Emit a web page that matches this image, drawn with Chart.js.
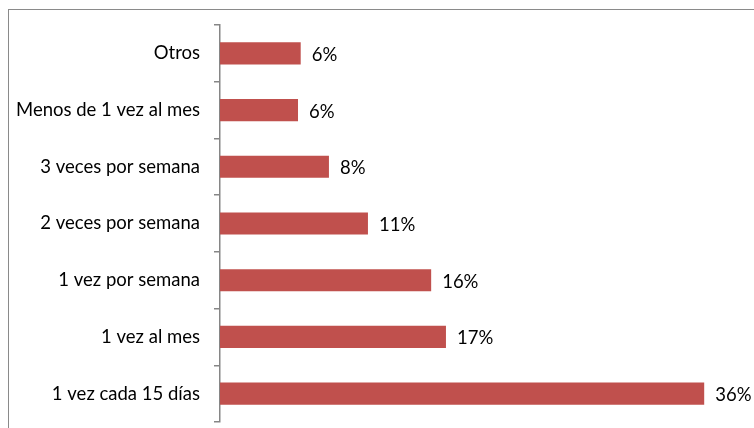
<!DOCTYPE html>
<html lang="es">
<head>
<meta charset="utf-8">
<title>Frecuencia</title>
<script src="https://cdn.jsdelivr.net/npm/chart.js@4/dist/chart.umd.min.js"></script>
<style>
  html, body { margin: 0; padding: 0; background: #fff; overflow: hidden; }
  #wrap { position: relative; width: 754px; height: 428px; overflow: hidden; }
  #frame { position: absolute; left: 8px; top: 9px; width: 800px; height: 500px; border: 1px solid #8a8a8a; box-sizing: border-box; }
  #box { position: absolute; left: 0; top: 0; width: 770px; height: 428px; }
</style>
</head>
<body>
<div id="wrap">
  <div id="frame"></div>
  <div id="box"><canvas id="chart"></canvas></div>
</div>
<script>
(function () {
  'use strict';

  // Categorías (de arriba hacia abajo)
  var categories = [
    'Otros',
    'Menos de 1 vez al mes',
    '3 veces por semana',
    '2 veces por semana',
    '1 vez por semana',
    '1 vez al mes',
    '1 vez cada 15 días'
  ];
  // Porcentajes
  var values = [6.0, 5.8, 8.1, 11.0, 15.7, 16.8, 36.0];

  var BAR = '#C0504D';
  var AXIS = '#868686';
  var FONT = { family: 'Lato', size: 18.5 };

  var valueLabels = {
    id: 'valueLabels',
    afterDatasetsDraw: function (chart) {
      var ctx = chart.ctx;
      var meta = chart.getDatasetMeta(0);
      ctx.save();
      ctx.font = FONT.size + 'px ' + FONT.family;
      ctx.fillStyle = '#000';
      ctx.textAlign = 'left';
      ctx.textBaseline = 'middle';
      meta.data.forEach(function (bar, i) {
        ctx.fillText(Math.round(values[i]) + '%', bar.x + 11, bar.y + 1.5);
      });
      ctx.restore();
    }
  };

  new Chart(document.getElementById('chart'), {
    type: 'bar',
    data: {
      labels: categories,
      datasets: [{
        data: values,
        backgroundColor: BAR,
        borderWidth: 0,
        categoryPercentage: 0.39,
        barPercentage: 1
      }]
    },
    options: {
      indexAxis: 'y',
      responsive: true,
      maintainAspectRatio: false,
      animation: false,
      layout: { padding: { left: 0, right: 12, top: 25, bottom: 6 } },
      plugins: { legend: { display: false }, tooltip: { enabled: false } },
      scales: {
        x: { display: false, min: 0, max: 40 },
        y: {
          afterFit: function (scale) {
            scale.width = 220;
            scale.paddingTop = 0;
            scale.paddingBottom = 0;
          },
          grid: { drawOnChartArea: false, drawTicks: true, tickLength: 6, color: AXIS, lineWidth: 1.5, offset: true },
          border: { display: true, color: AXIS, width: 1.5 },
          ticks: { color: '#000', font: FONT, padding: 14 }
        }
      }
    },
    plugins: [valueLabels]
  });
})();
</script>
</body>
</html>
